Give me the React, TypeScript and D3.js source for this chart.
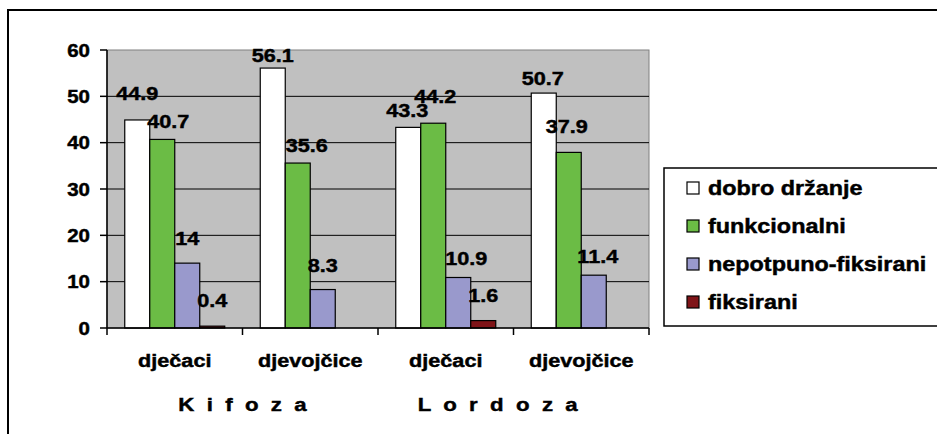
import React from 'react';
import * as d3 from 'd3';

const categories = ['dječaci', 'djevojčice', 'dječaci', 'djevojčice'];
const seriesNames = ['dobro držanje', 'funkcionalni', 'nepotpuno-fiksirani', 'fiksirani'];
const dobroDrzanje = [44.9, 56.1, 43.3, 50.7];
const funkcionalni = [40.7, 35.6, 44.2, 37.9];
const nepotpunoFiksirani = [14, 8.3, 10.9, 11.4];
const fiksirani: (number | null)[] = [0.4, null, 1.6, null];
const yTicks = [0, 10, 20, 30, 40, 50, 60];
const axisTitle = 'K  i  f  o  z  a' + ' '.repeat(18) + 'L  o  r  d  o  z  a';

const seriesValues = [dobroDrzanje, funkcionalni, nepotpunoFiksirani, fiksirani];
const colors = ['#FFFFFF', '#6BBC45', '#9999CC', '#7F1418'];

// labels were dragged by hand in the original: lift in value units, dx in px
const labelLift = [
  [4.3, 1.3, 2.2, 1.7],
  [2.5, 2.4, 4.4, 4.2],
  [3.9, 3.8, 2.7, 2.6],
  [4.1, 0, 4.0, 0],
];
const labelDx = [
  [0, 0, -1, -1],
  [6, 9, 2, -2],
  [0, 0, 8, 4],
  [0, 0, 0, 0],
];

const W = 937;
const H = 434;
const plot = { left: 107, right: 649, top: 50, bottom: 328 };
const SX = 1.17; // text in the source is stretched horizontally
const font = '"Liberation Sans", Arial, sans-serif';

function T({ x, y, size, anchor = 'middle', children }: any) {
  return (
    <text
      transform={`translate(${x},${y}) scale(${SX},1)`}
      textAnchor={anchor}
      fontFamily={font}
      fontWeight="bold"
      fontSize={size}
      style={{ whiteSpace: 'pre' }}
      fill="#000"
      stroke="#000"
      strokeWidth={0.45}
    >
      {children}
    </text>
  );
}

export default function App() {
  const y = d3.scaleLinear().domain([0, 60]).range([plot.bottom, plot.top]);
  const x0 = d3.scaleBand<number>().domain(d3.range(categories.length)).range([plot.left, plot.right]).padding(0);
  const x1 = d3
    .scaleBand<number>()
    .domain(d3.range(seriesNames.length))
    .range([0, x0.bandwidth()])
    .paddingInner(0)
    .paddingOuter(0.71);

  return (
    <svg width={W} height={H} style={{ position: 'absolute', left: 0, top: 0, background: '#fff' }}>
      <path d={`M8,${H} V10 H${W}`} fill="none" stroke="#000" strokeWidth={2} />

      <rect
        x={plot.left}
        y={plot.top}
        width={plot.right - plot.left}
        height={plot.bottom - plot.top}
        fill="#C0C0C0"
        stroke="#808080"
        strokeWidth={1}
      />
      {yTicks.slice(1, -1).map((t) => (
        <line key={t} x1={plot.left} x2={plot.right} y1={y(t)} y2={y(t)} stroke="#000" strokeWidth={1} />
      ))}

      {seriesValues.map((vals, si) =>
        vals.map((v, ci) =>
          v == null ? null : (
            <rect
              key={`${si}-${ci}`}
              x={x0(ci)! + x1(si)!}
              y={y(v)}
              width={x1.bandwidth()}
              height={y(0) - y(v)}
              fill={colors[si]}
              stroke="#000"
              strokeWidth={1.2}
            />
          )
        )
      )}

      {/* axes */}
      <line x1={plot.left} x2={plot.left} y1={plot.top} y2={plot.bottom} stroke="#000" strokeWidth={1.5} />
      <line x1={plot.left} x2={plot.right} y1={plot.bottom} y2={plot.bottom} stroke="#000" strokeWidth={1.5} />
      {yTicks.map((t) => (
        <g key={t}>
          <line x1={plot.left - 7} x2={plot.left} y1={y(t)} y2={y(t)} stroke="#000" strokeWidth={1.5} />
          <T x={plot.left - 17} y={y(t) + 6.5} size={17.5} anchor="end">
            {t}
          </T>
        </g>
      ))}
      {d3.range(categories.length + 1).map((i) => {
        const xx = plot.left + i * x0.step();
        return <line key={i} x1={xx} x2={xx} y1={plot.bottom} y2={plot.bottom + 7} stroke="#000" strokeWidth={1.5} />;
      })}
      {categories.map((c, i) => (
        <T key={i} x={x0(i)! + x0.bandwidth() / 2} y={367} size={18.5}>
          {c}
        </T>
      ))}
      <T x={(plot.left + plot.right) / 2} y={411} size={19}>
        {axisTitle}
      </T>

      {/* data labels */}
      {seriesValues.map((vals, si) =>
        vals.map((v, ci) =>
          v == null ? null : (
            <T
              key={`l${si}-${ci}`}
              x={x0(ci)! + x1(si)! + x1.bandwidth() / 2 + labelDx[si][ci]}
              y={y(v + labelLift[si][ci])}
              size={18.5}
            >
              {String(v)}
            </T>
          )
        )
      )}

      {/* legend */}
      <rect x={664} y={168} width={320} height={158} fill="#fff" stroke="#000" strokeWidth={1.5} />
      {seriesNames.map((s, i) => {
        const cy = 188 + i * 38;
        return (
          <g key={s}>
            <rect x={687} y={cy - 6} width={12} height={12} fill={colors[i]} stroke="#000" strokeWidth={1.2} />
            <T x={708} y={cy + 7} size={20} anchor="start">
              {s}
            </T>
          </g>
        );
      })}
    </svg>
  );
}
